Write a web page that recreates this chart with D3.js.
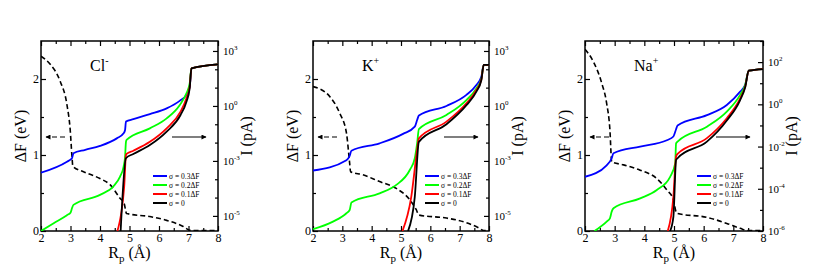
<!DOCTYPE html>
<html>
<head>
<meta charset="utf-8">
<script src="https://cdn.jsdelivr.net/npm/d3@7"></script>
<style>
body { margin: 0; background: #fff; }
svg { display: block; font-family: "Liberation Serif", serif; }
</style>
</head>
<body>
<div id="viz"></div>
<script>
// shared axis values
var xTicks = [2, 3, 4, 5, 6, 7, 8];
var xMinor = [2.5, 3.5, 4.5, 5.5, 6.5, 7.5];
var fTicks = [0, 1, 2];
var fMinor = [0.5, 1.5];
var seriesNames = ['σ = 0.3ΔF', 'σ = 0.2ΔF', 'σ = 0.1ΔF', 'σ = 0'];
var seriesColors = ['#0000ff', '#00ff00', '#ff0000', '#000000'];
var ionNames = ['Cl', 'K', 'Na'];
var ionCharges = ['-', '+', '+'];

// right (current) axis ticks, log scale
var clTicks = [1e3, 1, 1e-3, 1e-6];
var clTickExp = ['3', '0', '-3', '-5'];
var clMinor = [1e2, 1e1, 1e-1, 1e-2, 1e-4, 1e-5];
var naTicks = [1e2, 1, 1e-2, 1e-4, 1e-6];
var naTickExp = ['2', '0', '-2', '-4', '-6'];
var naMinor = [1e3, 1e1, 1e-1, 1e-3, 1e-5];

// Cl- : current I (pA) vs Rp (A)
var clBlue = [[2.0, 2.3e-4], [2.88, 9.1e-4], [3.05, 1.4e-3], [3.1, 2.6e-3], [3.5, 4.0e-3], [4.0, 6.6e-3],
  [4.57, 1.7e-2], [4.8, 3.2e-2], [4.85, 4.9e-2], [4.88, 0.14], [5.13, 0.19], [5.69, 0.36], [6.26, 0.74],
  [6.7, 1.9], [6.93, 4.0], [7.04, 11], [7.1, 112], [8.0, 186]];
var clGreen = [[2.0, 1.5e-7], [2.43, 4.0e-7], [2.88, 1.1e-6], [3.0, 1.5e-6], [3.05, 2.6e-6], [3.1, 4.0e-6],
  [4.0, 1.4e-5], [4.45, 4.0e-5], [4.68, 1.4e-4], [4.8, 4.9e-4], [4.85, 1.7e-3], [4.88, 1.1e-2], [4.9, 1.4e-2],
  [5.69, 6.0e-2], [6.26, 0.21], [6.7, 1.1], [6.93, 4.9], [7.04, 17], [7.1, 112], [8.0, 186]];
var clRed = [[4.59, 1.5e-7], [4.82, 4.0e-5], [4.88, 2.1e-3], [4.9, 2.4e-3], [5.13, 3.6e-3], [5.69, 1.1e-2],
  [6.26, 6.0e-2], [6.73, 0.49], [6.93, 2.6], [7.04, 11], [7.1, 112], [8.0, 186]];
var clBlack = [[4.7, 1.5e-7], [4.88, 1.4e-3], [5.13, 2.4e-3], [5.69, 7.4e-3], [6.26, 4.0e-2], [6.73, 0.32],
  [6.93, 1.7], [7.04, 9.1], [7.1, 112], [8.0, 186]];
// Cl- : free energy dF (eV)
var clDF = [[2.0, 2.30], [2.32, 2.19], [2.65, 1.97], [2.88, 1.66], [2.99, 1.33], [3.05, 0.98], [3.08, 0.85],
  [3.44, 0.78], [4.0, 0.69], [4.34, 0.61], [4.68, 0.43], [4.82, 0.36], [4.88, 0.25], [4.9, 0.23], [5.69, 0.19],
  [6.26, 0.14], [6.82, 0.06], [7.04, 0.01], [7.1, 0.005], [8.0, 0.005]];

// K+
var kBlue = [[2.0, 3.0e-4], [3.14, 1.1e-3], [3.25, 1.9e-3], [3.31, 3.6e-3], [4.27, 9.1e-3], [5.07, 3.0e-2],
  [5.47, 7.4e-2], [5.55, 0.17], [5.61, 0.30], [6.55, 1.0], [7.23, 4.0], [7.57, 14], [7.74, 40], [7.82, 174], [8.0, 174]];
var kGreen = [[2.0, 1.9e-7], [2.68, 4.9e-7], [3.14, 1.4e-6], [3.25, 2.1e-6], [3.31, 5.4e-6], [4.27, 1.7e-5],
  [4.84, 4.9e-5], [5.3, 3.2e-4], [5.47, 1.4e-3], [5.55, 9.1e-3], [5.61, 5.4e-2], [6.55, 0.32], [7.23, 2.1],
  [7.57, 9.1], [7.74, 31], [7.82, 174], [8.0, 174]];
var kRed = [[5.05, 1.5e-7], [5.35, 1.1e-5], [5.55, 4.0e-3], [5.61, 1.7e-2], [6.55, 0.14], [7.23, 1.4],
  [7.57, 7.4], [7.74, 28], [7.82, 174], [8.0, 174]];
var kBlack = [[5.24, 1.5e-7], [5.47, 1.1e-5], [5.61, 1.1e-2], [6.55, 0.10], [7.23, 1.1], [7.57, 6.0],
  [7.74, 26], [7.82, 174], [8.0, 174]];
var kDF = [[2.0, 1.90], [2.57, 1.77], [2.91, 1.55], [3.14, 1.29], [3.25, 0.89], [3.28, 0.78], [3.7, 0.74],
  [4.27, 0.65], [4.84, 0.56], [5.3, 0.41], [5.52, 0.28], [5.61, 0.21], [6.55, 0.17], [7.23, 0.11],
  [7.68, 0.035], [7.82, 0.005], [8.0, 0.005]];

// Na+
var naBlue = [[2.0, 3.7e-4], [2.73, 1.3e-3], [2.9, 2.8e-3], [2.96, 4.8e-3], [3.86, 1.0e-2], [4.76, 2.0e-2],
  [4.98, 3.0e-2], [5.07, 6.6e-2], [5.12, 0.10], [6.11, 0.31], [6.78, 0.93], [7.23, 4.0], [7.4, 8.3],
  [7.52, 39], [8.0, 47]];
var naGreen = [[2.32, 1e-6], [2.73, 2.8e-6], [2.84, 4.0e-6], [2.9, 8.3e-6], [2.96, 1.2e-5], [3.86, 3.5e-5],
  [4.42, 8.7e-5], [4.87, 3.7e-4], [5.04, 1.6e-3], [5.07, 1.4e-2], [5.12, 1.7e-2], [6.11, 8.7e-2],
  [6.78, 0.45], [7.23, 2.8], [7.4, 8.3], [7.52, 39], [8.0, 47]];
var naRed = [[4.79, 1e-6], [4.98, 4.3e-5], [5.07, 3.3e-3], [5.12, 4.5e-3], [6.11, 2.5e-2], [6.78, 0.22],
  [7.23, 1.9], [7.4, 6.9], [7.52, 39], [8.0, 47]];
var naBlack = [[4.87, 1e-6], [4.98, 4.8e-6], [5.07, 2.3e-3], [5.12, 2.8e-3], [6.11, 1.7e-2], [6.78, 0.17],
  [7.23, 1.6], [7.4, 6.4], [7.52, 39], [8.0, 47]];
var naDF = [[2.0, 2.39], [2.28, 2.23], [2.56, 1.95], [2.73, 1.68], [2.84, 1.33], [2.9, 0.91], [3.3, 0.87],
  [3.86, 0.80], [4.42, 0.69], [4.76, 0.54], [4.98, 0.41], [5.07, 0.25], [5.12, 0.23], [6.11, 0.18],
  [6.78, 0.10], [7.23, 0.035], [7.52, 0.005], [8.0, 0.005]];

var W = 817, H = 273;
var top_ = 41, bottom_ = 231;
var FONT = 'Liberation Serif';

var panels = [
  { left: 41, right: 218, iDomain: [1.5e-7, 3.5e3], iTicks: clTicks, iExp: clTickExp, iMinor: clMinor,
    series: [clBlue, clGreen, clRed, clBlack], dF: clDF },
  { left: 313, right: 489, iDomain: [1.5e-7, 3.5e3], iTicks: clTicks, iExp: clTickExp, iMinor: clMinor,
    series: [kBlue, kGreen, kRed, kBlack], dF: kDF },
  { left: 585, right: 763, iDomain: [1e-6, 1e3], iTicks: naTicks, iExp: naTickExp, iMinor: naMinor,
    series: [naBlue, naGreen, naRed, naBlack], dF: naDF }
];

var svg = d3.select('#viz').append('svg').attr('width', W).attr('height', H);

var defs = svg.append('defs');
defs.append('marker').attr('id', 'head')
  .attr('viewBox', '0 0 10 10').attr('refX', 9).attr('refY', 5)
  .attr('markerWidth', 7).attr('markerHeight', 5).attr('markerUnits', 'userSpaceOnUse')
  .attr('orient', 'auto')
  .append('path').attr('d', 'M0,0L10,5L0,10z').attr('fill', '#000');

function styleAxis(g) {
  g.attr('font-family', null);
  g.select('.domain').remove();
  g.selectAll('line').attr('stroke', '#000').attr('stroke-width', 1.2);
  g.selectAll('text').attr('fill', '#000').style('font-family', FONT);
}

function drawPanel(p, k) {
  var x = d3.scaleLinear().domain([2, 8]).range([p.left, p.right]);
  var yF = d3.scaleLinear().domain([0, 2.5]).range([bottom_, top_]);
  var yI = d3.scaleLog().domain(p.iDomain).range([bottom_, top_]);
  var g = svg.append('g').style('font-family', FONT);

  g.append('clipPath').attr('id', 'clip' + k).append('rect')
    .attr('x', p.left).attr('y', top_).attr('width', p.right - p.left).attr('height', bottom_ - top_);

  // bottom axis (inward ticks)
  g.append('g').attr('transform', 'translate(0,' + bottom_ + ')')
    .call(d3.axisBottom(x).tickValues(xTicks).tickSizeInner(-5).tickSizeOuter(0).tickPadding(2).tickFormat(d3.format('d')))
    .call(styleAxis).selectAll('text').attr('font-size', 12);
  g.append('g').attr('transform', 'translate(0,' + bottom_ + ')')
    .call(d3.axisBottom(x).tickValues(xMinor).tickSize(-3).tickFormat(''))
    .call(styleAxis);
  // top mirror ticks
  g.append('g').attr('transform', 'translate(0,' + top_ + ')')
    .call(d3.axisTop(x).tickValues(xTicks).tickSize(-5).tickFormat(''))
    .call(styleAxis);
  g.append('g').attr('transform', 'translate(0,' + top_ + ')')
    .call(d3.axisTop(x).tickValues(xMinor).tickSize(-3).tickFormat(''))
    .call(styleAxis);

  // left axis dF
  g.append('g').attr('transform', 'translate(' + p.left + ',0)')
    .call(d3.axisLeft(yF).tickValues(fTicks).tickSizeInner(-5).tickSizeOuter(0).tickPadding(2).tickFormat(d3.format('d')))
    .call(styleAxis).selectAll('text').attr('font-size', 12);
  g.append('g').attr('transform', 'translate(' + p.left + ',0)')
    .call(d3.axisLeft(yF).tickValues(fMinor).tickSize(-3).tickFormat(''))
    .call(styleAxis);

  // right axis I (log)
  g.append('g').attr('transform', 'translate(' + p.right + ',0)')
    .call(d3.axisRight(yI).tickValues(p.iTicks).tickSize(-5).tickFormat(''))
    .call(styleAxis);
  g.append('g').attr('transform', 'translate(' + p.right + ',0)')
    .call(d3.axisRight(yI).tickValues(p.iMinor).tickSize(-3).tickFormat(''))
    .call(styleAxis);
  p.iTicks.forEach(function(v, i) {
    var t = g.append('text').attr('x', p.right + 5).attr('y', yI(v) + 4).attr('font-size', 11);
    t.append('tspan').text('10');
    t.append('tspan').attr('dy', -5).attr('font-size', 7).text(p.iExp[i]);
  });

  // frame
  g.append('rect').attr('x', p.left).attr('y', top_)
    .attr('width', p.right - p.left).attr('height', bottom_ - top_)
    .attr('fill', 'none').attr('stroke', '#000').attr('stroke-width', 1.5);

  var plot = g.append('g').attr('clip-path', 'url(#clip' + k + ')');

  // dF, dashed
  var lineF = d3.line().x(function(d) { return x(d[0]); }).y(function(d) { return yF(d[1]); })
    .curve(d3.curveMonotoneX);
  plot.append('path').datum(p.dF).attr('d', lineF)
    .attr('fill', 'none').attr('stroke', '#000').attr('stroke-width', 1.6).attr('stroke-dasharray', '5,3');

  // currents
  var lineI = d3.line().x(function(d) { return x(d[0]); }).y(function(d) { return yI(d[1]); })
    .curve(d3.curveMonotoneX);
  p.series.forEach(function(s, i) {
    plot.append('path').datum(s).attr('d', lineI)
      .attr('fill', 'none').attr('stroke', seriesColors[i]).attr('stroke-width', 1.8);
  });

  // arrows
  g.append('line').attr('x1', p.left + 24).attr('x2', p.left + 5).attr('y1', 137).attr('y2', 137)
    .attr('stroke', '#000').attr('stroke-width', 1.2).attr('stroke-dasharray', '5,3')
    .attr('marker-end', 'url(#head)');
  g.append('line').attr('x1', p.left + 131).attr('x2', p.left + 165).attr('y1', 137).attr('y2', 137)
    .attr('stroke', '#000').attr('stroke-width', 1.2)
    .attr('marker-end', 'url(#head)');

  // ion label
  var ion = g.append('text').attr('x', p.left + 49).attr('y', 71).attr('font-size', 16);
  ion.append('tspan').text(ionNames[k]);
  ion.append('tspan').attr('dy', -7).attr('font-size', 10).text(ionCharges[k]);

  // legend
  seriesNames.forEach(function(n, i) {
    var ly = 176 + i * 9;
    g.append('line').attr('x1', p.left + 112).attr('x2', p.left + 126).attr('y1', ly).attr('y2', ly)
      .attr('stroke', seriesColors[i]).attr('stroke-width', 2);
    g.append('text').attr('x', p.left + 128).attr('y', ly + 2.5).attr('font-size', 7.5).text(n);
  });

  // axis titles
  var cy = (top_ + bottom_) / 2;
  g.append('text').attr('transform', 'translate(' + (p.left - 15) + ',' + cy + ') rotate(-90)')
    .attr('text-anchor', 'middle').attr('font-size', 16).text('ΔF (eV)');
  g.append('text').attr('transform', 'translate(' + (p.right + 34) + ',' + cy + ') rotate(-90)')
    .attr('text-anchor', 'middle').attr('font-size', 16).text('I (pA)');
  var xt = g.append('text').attr('x', (p.left + p.right) / 2).attr('y', 258)
    .attr('text-anchor', 'middle').attr('font-size', 16);
  xt.append('tspan').text('R');
  xt.append('tspan').attr('dy', 4).attr('font-size', 11).text('p');
  xt.append('tspan').attr('dy', -4).text(' (Å)');
}

panels.forEach(drawPanel);
</script>
</body>
</html>
